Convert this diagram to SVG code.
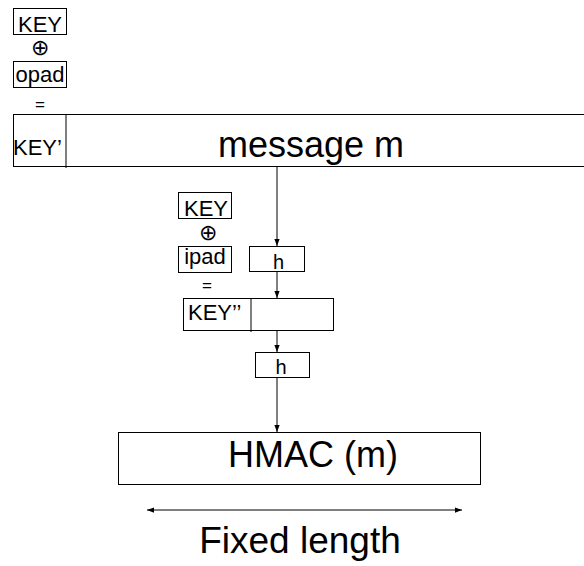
<svg xmlns="http://www.w3.org/2000/svg" width="584" height="566" viewBox="0 0 584 566">
<defs>
<style>
.b{fill:#fff;stroke:#000;stroke-width:1}
.ln{stroke:#000;stroke-width:1;fill:none}
text{font-family:"Liberation Sans",Arial,sans-serif;fill:#000}
.s{font-size:22px}
.m{text-anchor:middle}
.op{font-family:"DejaVu Sans",sans-serif;font-size:22px;font-weight:200;text-anchor:middle}
</style>
<marker id="ah" viewBox="0 0 8 8" refX="8" refY="4" markerWidth="7" markerHeight="7" orient="auto-start-reverse" markerUnits="userSpaceOnUse"><path d="M0,1 L8,4 L0,7 Z" fill="#000"/></marker>
</defs>
<g id="connectors">
<line class="ln" x1="277" y1="166" x2="277" y2="246" marker-end="url(#ah)"/>
<line class="ln" x1="277" y1="272" x2="277" y2="298" marker-end="url(#ah)"/>
<line class="ln" x1="277" y1="331" x2="277" y2="352" marker-end="url(#ah)"/>
<line class="ln" x1="277" y1="378" x2="277" y2="432" marker-end="url(#ah)"/>
<line class="ln" x1="147" y1="510" x2="462" y2="510" marker-start="url(#ah)" marker-end="url(#ah)"/>
</g>
<g id="key1"><rect class="b" x="13.5" y="8.5" width="53" height="26"/><text class="s m" x="40" y="32">KEY</text></g>
<g id="xor1"><text class="op" x="40" y="55">⊕</text></g>
<g id="opad"><rect class="b" x="13.5" y="61.5" width="53" height="26"/><text class="s m" x="40" y="82">opad</text></g>
<g id="eq1"><text class="m" x="40" y="110" font-size="17">=</text></g>
<g id="message"><rect class="b" x="13.5" y="114.5" width="580" height="52"/><line class="ln" x1="66" y1="114" x2="66" y2="168"/><text class="s" x="13" y="155">KEY’</text><text class="m" x="311" y="157" font-size="36">message m</text></g>
<g id="key2"><rect class="b" x="178.5" y="192.5" width="53" height="26"/><text class="s m" x="206" y="216">KEY</text></g>
<g id="xor2"><text class="op" x="208" y="240">⊕</text></g>
<g id="ipad"><rect class="b" x="178.5" y="246.5" width="53" height="26"/><text class="s m" x="205" y="264">ipad</text></g>
<g id="eq2"><text class="m" x="207" y="291" font-size="17">=</text></g>
<g id="h1"><rect class="b" x="249.5" y="246.5" width="55" height="25"/><text class="m" x="278.5" y="269" font-size="20">h</text></g>
<g id="key2b"><rect class="b" x="183.5" y="298.5" width="150" height="32"/><line class="ln" x1="251" y1="298" x2="251" y2="332"/><text class="s" x="188" y="320">KEY’’</text></g>
<g id="h2"><rect class="b" x="255.5" y="352.5" width="54" height="25"/><text class="m" x="281" y="374" font-size="20">h</text></g>
<g id="hmac"><rect class="b" x="118.5" y="432.5" width="362" height="52"/><text class="m" x="313" y="467" font-size="36">HMAC (m)</text></g>
<g id="fixed"><text class="m" x="300" y="553" font-size="37">Fixed length</text></g>
</svg>
